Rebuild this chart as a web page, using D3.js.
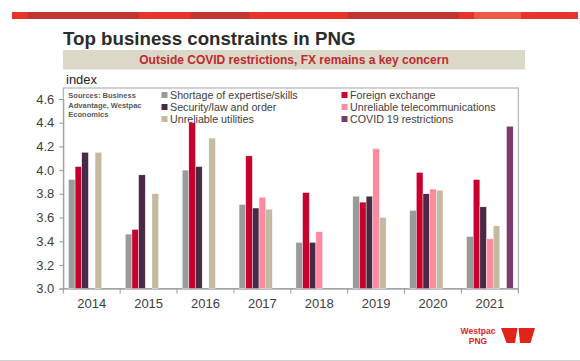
<!DOCTYPE html>
<html>
<head>
<meta charset="utf-8">
<script src="https://cdn.jsdelivr.net/npm/d3@7/dist/d3.min.js"></script>
<style>
  html, body { margin: 0; padding: 0; background: #fff; }
  svg { display: block; font-family: "Liberation Sans", Arial, sans-serif; }
</style>
</head>
<body>
<svg id="chart" width="580" height="361"></svg>
<script>
// ---- data ----
const years = ["2014", "2015", "2016", "2017", "2018", "2019", "2020", "2021"];
const shortage   = [3.92, 3.46, 4.00, 3.71, 3.39, 3.78, 3.66, 3.44];
const foreignFx  = [4.03, 3.50, 4.40, 4.12, 3.81, 3.73, 3.98, 3.92];
const security   = [4.15, 3.96, 4.03, 3.68, 3.39, 3.78, 3.80, 3.69];
const telecom    = [null, null, null, 3.77, 3.48, 4.18, 3.84, 3.42];
const utilities  = [4.15, 3.80, 4.27, 3.67, null, 3.60, 3.83, 3.53];
const covid      = [null, null, null, null, null, null, null, 4.37];
const yTicks = [3.0, 3.2, 3.4, 3.6, 3.8, 4.0, 4.2, 4.4, 4.6];

const seriesNames = ["Shortage of expertise/skills", "Foreign exchange", "Security/law and order",
                     "Unreliable telecommunications", "Unreliable utilities", "COVID 19 restrictions"];
const seriesValues = [shortage, foreignFx, security, telecom, utilities, covid];
const seriesColors = ["#9a9a9a", "#c8002c", "#4a2947", "#fd8a9f", "#c4baa0", "#7a3a6c"];
// slot keys within a year group (the original chart leaves an empty slot before COVID)
const slotKeys = ["s0", "s1", "s2", "s3", "s4", "gap", "s5"];

const svg = d3.select("#chart");

// ---- top decorative band ----
const band = [
  [12, 28, "#e8322b"], [28, 139, "#c0352f"], [139, 191, "#e8322b"], [191, 249, "#c0352f"],
  [249, 348, "#e8322b"], [348, 459, "#c0352f"], [459, 474, "#e8322b"], [474, 521, "#ec5a45"],
  [521, 578, "#e8322b"]
];
svg.selectAll("rect.band").data(band).enter().append("rect")
  .attr("x", d => d[0]).attr("y", 12).attr("width", d => d[1] - d[0]).attr("height", 7)
  .attr("fill", d => d[2]);

// ---- title ----
svg.append("text").attr("x", 63).attr("y", 45)
  .attr("font-size", "18.7px").attr("font-weight", "bold").attr("fill", "#2b2b2b")
  .text("Top business constraints in PNG");

svg.append("rect").attr("x", 63).attr("y", 50).attr("width", 462).attr("height", 19.5)
  .attr("fill", "#dcd8c8");
svg.append("text").attr("x", 294).attr("y", 63.8).attr("text-anchor", "middle")
  .attr("font-size", "12px").attr("font-weight", "bold").attr("fill", "#c0282d")
  .text("Outside COVID restrictions, FX remains a key concern");

// ---- scales ----
const pLeft = 63.3, pRight = 518.3, pTop = 88, pBottom = 288.6;
const x = d3.scaleBand().domain(years).range([pLeft, pRight]).paddingInner(0).paddingOuter(0);
const xs = d3.scaleBand().domain(slotKeys).range([0, x.bandwidth()]).paddingInner(0).paddingOuter(0.77);
const y = d3.scaleLinear().domain([3.0, 4.6]).range([pBottom, 99]);

// frame
svg.append("rect").attr("x", pLeft).attr("y", pTop).attr("width", pRight - pLeft).attr("height", pBottom - pTop)
  .attr("fill", "none").attr("stroke", "#a6a6a6").attr("stroke-width", 1);

// y axis
const yAxis = svg.append("g").attr("transform", `translate(${pLeft},0)`)
  .call(d3.axisLeft(y).tickValues(yTicks).tickFormat(d3.format(".1f")).tickSize(4).tickPadding(5));
yAxis.select(".domain").attr("stroke", "#999");
yAxis.selectAll(".tick line").attr("stroke", "#999");
yAxis.selectAll("text").attr("font-size", "13px").attr("fill", "#404040")
  .attr("font-family", "Liberation Sans, Arial, sans-serif");

// x axis ticks at category boundaries
const xAxis = svg.append("g").attr("transform", `translate(0,${pBottom})`)
  .call(d3.axisBottom(x).tickSize(0).tickPadding(10));
xAxis.select(".domain").attr("stroke", "#999");
xAxis.selectAll("text").attr("font-size", "13px").attr("fill", "#404040")
  .attr("font-family", "Liberation Sans, Arial, sans-serif");
const boundaries = years.map(d => x(d)).concat([x(years[years.length - 1]) + x.bandwidth()]);
svg.selectAll("line.xb").data(boundaries).enter().append("line")
  .attr("x1", d => d).attr("x2", d => d).attr("y1", pBottom).attr("y2", pBottom + 5)
  .attr("stroke", "#999");

// y label
svg.append("text").attr("x", 66).attr("y", 84).attr("font-size", "13px").attr("fill", "#222").text("index");

// ---- bars ----
const barData = [];
seriesValues.forEach((vals, si) => {
  vals.forEach((v, i) => {
    if (v != null) barData.push({ year: years[i], slot: "s" + si, v, color: seriesColors[si] });
  });
});
svg.append("g").selectAll("rect").data(barData).enter().append("rect")
  .attr("x", d => x(d.year) + xs(d.slot))
  .attr("width", xs.bandwidth())
  .attr("y", d => y(d.v))
  .attr("height", d => pBottom - y(d.v))
  .attr("fill", d => d.color)
  .attr("stroke", "#fff").attr("stroke-width", 0.4);

// ---- sources ----
const srcLines = ["Sources: Business", "Advantage, Westpac", "Economics"];
svg.selectAll("text.src").data(srcLines).enter().append("text")
  .attr("x", 68.3).attr("y", (d, i) => 98 + i * 9.5)
  .attr("font-size", "7.5px").attr("font-weight", "bold").attr("fill", "#595959")
  .text(d => d);

// ---- legend ----
const legendPos = [
  [161.5, 95], [341.5, 95], [161.5, 107], [341.5, 107], [161.5, 119], [341.5, 119]
];
const lg = svg.append("g").selectAll("g").data(seriesNames).enter().append("g")
  .attr("transform", (d, i) => `translate(${legendPos[i][0]},${legendPos[i][1]})`);
lg.append("rect").attr("x", 0).attr("y", -3).attr("width", 6).attr("height", 6)
  .attr("fill", (d, i) => seriesColors[i]);
lg.append("text").attr("x", 8.5).attr("y", 3.9).attr("font-size", "10.7px").attr("fill", "#404040")
  .text(d => d);

// ---- footer ----
svg.append("text").attr("x", 478).attr("y", 334).attr("text-anchor", "middle")
  .attr("font-size", "8.5px").attr("font-weight", "bold").attr("fill", "#e2231a").text("Westpac");
svg.append("text").attr("x", 478).attr("y", 344).attr("text-anchor", "middle")
  .attr("font-size", "8.5px").attr("font-weight", "bold").attr("fill", "#e2231a").text("PNG");
svg.append("polygon").attr("points", "501,328 517.5,328 515,343 506.5,343").attr("fill", "#e2231a");
svg.append("polygon").attr("points", "518.5,328 535,328 530.5,343 520,343").attr("fill", "#e2231a");
svg.append("line").attr("x1", 0).attr("x2", 580).attr("y1", 360.5).attr("y2", 360.5)
  .attr("stroke", "#d0d0d0").attr("stroke-width", 1);
</script>
</body>
</html>
